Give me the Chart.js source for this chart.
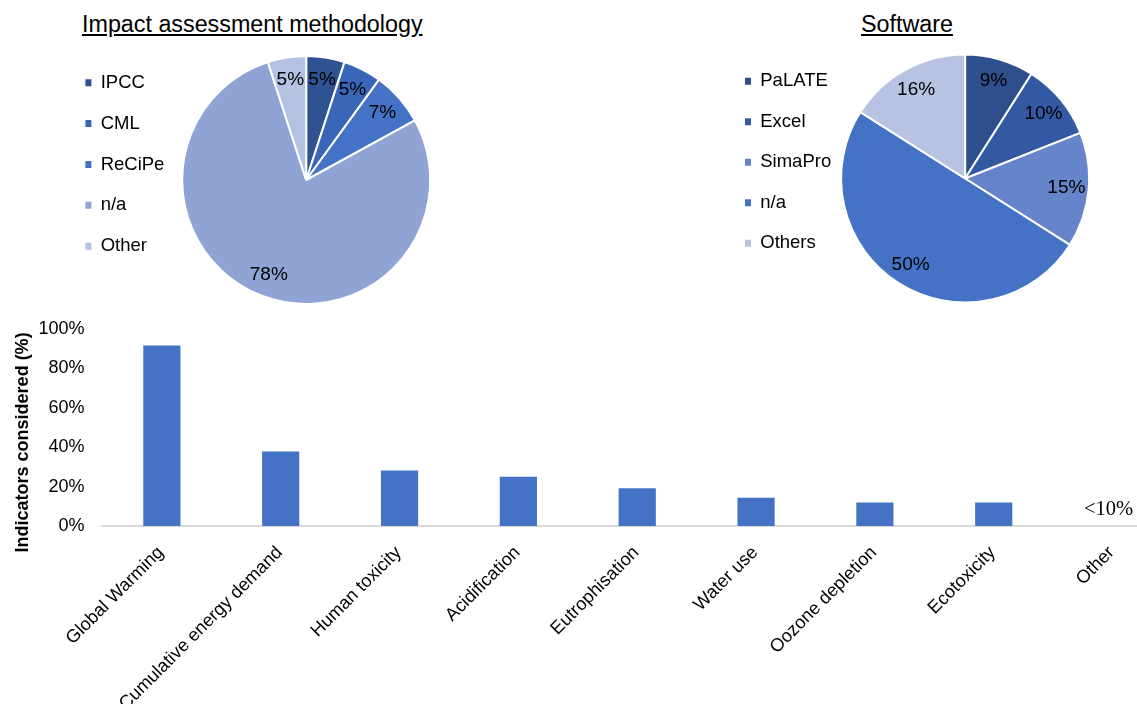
<!DOCTYPE html>
<html>
<head>
<meta charset="utf-8">
<script src="https://cdn.jsdelivr.net/npm/chart.js@4.4.1/dist/chart.umd.min.js"></script>
<style>
  html, body { margin:0; padding:0; width:1137px; height:704px; overflow:hidden; background:#ffffff; }
  canvas { position:absolute; }
  .title { position:absolute; font-family:"Liberation Sans", Arial, sans-serif; font-size:23.3px; line-height:23px;
           text-decoration:underline; color:#000; white-space:nowrap; }
</style>
</head>
<body>
<div class="title" style="left:82px; top:13px;">Impact assessment methodology</div>
<div class="title" style="left:861px; top:13px;">Software</div>
<canvas id="pie1" width="375" height="258" style="left:63px; top:51px;"></canvas>
<canvas id="pie2" width="366" height="257" style="left:723px; top:50px;"></canvas>
<canvas id="bars" width="1180" height="425" style="left:0px; top:300px;"></canvas>
<script>
// ---------- data ----------
const methodLabels = ['IPCC', 'CML', 'ReCiPe', 'n/a', 'Other'];
const methodValues = [5, 5, 7, 78, 5];
const methodColors = ['#2F5292', '#3A66B8', '#4472C4', '#8FA3D5', '#B5C1E3'];

const softwareLabels = ['PaLATE', 'Excel', 'SimaPro', 'n/a', 'Others'];
const softwareValues = [9, 10, 15, 50, 16];
const softwareColors = ['#2E4F8B', '#3459A3', '#6584C9', '#4472C4', '#B8C2E3'];

const indicatorLabels = ['Global Warming', 'Cumulative energy demand', 'Human toxicity', 'Acidification',
                         'Eutrophisation', 'Water use', 'Oozone depletion', 'Ecotoxicity', 'Other'];
const indicatorValues = [91.5, 37.8, 28.2, 25, 19.1, 14.3, 11.9, 11.9, null];
const otherNote = '<10%';
const otherNoteValue = 8.3;
const yTicks = [0, 20, 40, 60, 80, 100];
const yTitle = 'Indicators considered (%)';

// ---------- setup ----------
const FAMILY = '"Liberation Sans", Arial, Helvetica, sans-serif';
Chart.defaults.font.family = FAMILY;
Chart.defaults.color = '#000';
Chart.defaults.animation = false;

const pieLabelPlugin = {
  id: 'pieLabels',
  afterDatasetsDraw(chart, args, opts) {
    const ctx = chart.ctx;
    const meta = chart.getDatasetMeta(0);
    const ds = chart.data.datasets[0];
    ctx.save();
    ctx.font = '19px ' + FAMILY;
    ctx.fillStyle = '#000';
    ctx.textAlign = 'center';
    ctx.textBaseline = 'middle';
    meta.data.forEach((arc, i) => {
      const p = arc.getProps(['x', 'y', 'startAngle', 'endAngle', 'outerRadius'], true);
      const mid = (p.startAngle + p.endAngle) / 2;
      const r = p.outerRadius * opts.fraction;
      ctx.fillText(ds.data[i] + '%', p.x + Math.cos(mid) * r, p.y + Math.sin(mid) * r);
    });
    ctx.restore();
  }
};

function legendLabels(chart) {
  const items = Chart.overrides.doughnut.plugins.legend.labels.generateLabels(chart);
  items.forEach(it => { it.lineWidth = 0; it.strokeStyle = 'rgba(0,0,0,0)'; });
  return items;
}

function pieConfig(labels, values, colors, pad) {
  return {
    type: 'pie',
    data: { labels: labels, datasets: [{ data: values, backgroundColor: colors, borderColor: '#ffffff', borderWidth: 2, radius: 124 }] },
    options: {
      responsive: false,
      devicePixelRatio: 1,
      layout: { padding: 0 },
      plugins: {
        tooltip: { enabled: false },
        pieLabels: { fraction: 0.82 },
        legend: {
          position: 'left',
          align: 'start',
          labels: {
            boxWidth: 6, boxHeight: 7, padding: pad, color: '#000',
            font: { size: 18.5, family: FAMILY },
            generateLabels: legendLabels
          }
        }
      }
    },
    plugins: [pieLabelPlugin]
  };
}

new Chart(document.getElementById('pie1'), pieConfig(methodLabels, methodValues, methodColors, 22.4));
new Chart(document.getElementById('pie2'), pieConfig(softwareLabels, softwareValues, softwareColors, 22));

const barExtras = {
  id: 'barExtras',
  afterDraw(chart) {
    const { ctx, chartArea, scales } = chart;
    ctx.save();
    // y axis title
    ctx.translate(23, (chartArea.top + chartArea.bottom) / 2 + 15);
    ctx.rotate(-Math.PI / 2);
    ctx.font = 'bold 18px ' + FAMILY;
    ctx.fillStyle = '#000';
    ctx.textAlign = 'center';
    ctx.textBaseline = 'middle';
    ctx.fillText(yTitle, 0, 0);
    ctx.restore();
    // note for the last category
    ctx.save();
    ctx.font = '20.5px "Liberation Serif", "Times New Roman", serif';
    ctx.fillStyle = '#000';
    ctx.textAlign = 'center';
    ctx.textBaseline = 'middle';
    ctx.fillText(otherNote, scales.x.getPixelForValue(indicatorLabels.length - 1) - 4, scales.y.getPixelForValue(otherNoteValue));
    ctx.restore();
  }
};

new Chart(document.getElementById('bars'), {
  type: 'bar',
  data: {
    labels: indicatorLabels,
    datasets: [{ data: indicatorValues, backgroundColor: '#4472C4', borderWidth: 0, barPercentage: 0.313, categoryPercentage: 1 }]
  },
  options: {
    responsive: false,
    devicePixelRatio: 1,
    layout: { padding: { top: 27, left: 20.4, right: 8, bottom: 0 } },
    plugins: { legend: { display: false }, tooltip: { enabled: false } },
    scales: {
      x: {
        grid: { display: false, drawTicks: false },
        border: { display: true, color: '#D9D9D9', width: 2 },
        ticks: { autoSkip: false, minRotation: 45, maxRotation: 45, padding: 16, labelOffset: -1,
                 color: '#000', font: { size: 18.2, family: FAMILY } }
      },
      y: {
        min: 0, max: 100,
        afterBuildTicks(scale) { scale.ticks = yTicks.map(v => ({ value: v })); },
        grid: { display: false, drawTicks: false },
        border: { display: false },
        ticks: { padding: 18, color: '#000', font: { size: 18, family: FAMILY }, callback: v => v + '%' }
      }
    }
  },
  plugins: [barExtras]
});
</script>
</body>
</html>
